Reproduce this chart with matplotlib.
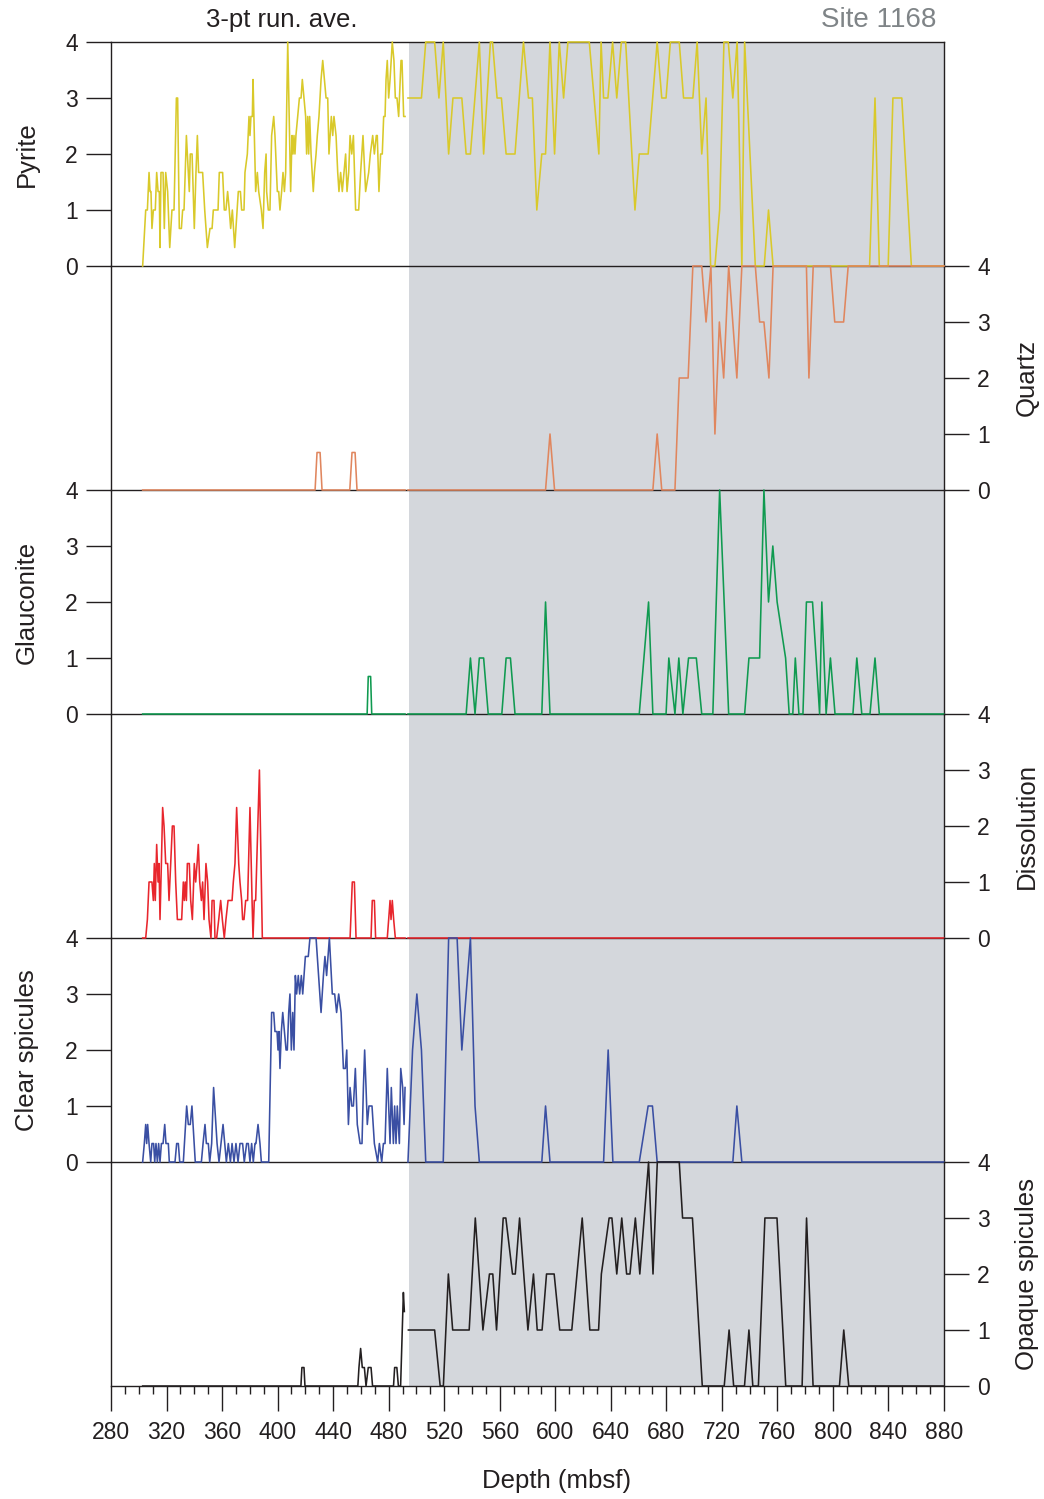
import matplotlib
matplotlib.use('Agg')
import matplotlib.pyplot as plt
from matplotlib.ticker import MultipleLocator

plt.rcParams['font.family'] = ['Liberation Sans', 'DejaVu Sans']

# ---- data: depth (mbsf) and 3-pt running average abundance (0-4) ----
# shallow interval (white) and deep interval (shaded) are separate series
pyrite_up_depth = [302.8, 305.0, 306.2, 307.4, 308.1, 308.8, 309.5, 310.5, 311.9, 312.9,
                   313.9, 314.8, 315.3, 316.0, 317.5, 318.4, 319.4, 320.8, 322.3, 323.9,
                   325.4, 327.1, 328.0, 329.2, 330.7, 331.6, 332.6, 334.3, 336.4, 337.1,
                   338.4, 340.0, 341.2, 342.2, 343.1, 346.0, 347.5, 349.4, 351.3, 352.8,
                   353.7, 357.1, 358.0, 360.4, 361.6, 362.8, 364.0, 365.2, 366.2, 367.4,
                   369.1, 371.7, 373.2, 374.1, 375.8, 376.5, 378.2, 379.4, 380.1, 380.8,
                   381.8, 382.3, 384.2, 385.4, 386.4, 388.3, 389.5, 390.7, 391.7, 392.1,
                   393.3, 394.5, 395.7, 397.2, 398.1, 399.8, 400.8, 401.7, 402.9, 403.9,
                   404.9, 405.8, 407.3, 409.4, 410.4, 411.1, 411.8, 412.5, 413.2, 414.5,
                   415.7, 416.9, 417.8, 419.0, 420.2, 420.9, 421.7, 422.4, 423.1, 424.1,
                   425.7, 426.5, 427.7, 428.6, 429.8, 431.3, 432.5, 433.7, 434.9, 436.1,
                   437.0, 438.7, 439.7, 440.6, 442.1, 443.3, 444.2, 445.4, 446.6, 449.0,
                   450.0, 451.2, 452.2, 453.4, 454.6, 456.2, 458.4, 459.8, 461.5, 463.4,
                   465.6, 466.8, 468.5, 469.7, 471.1, 471.8, 473.0, 474.2, 475.4, 476.4,
                   477.4, 478.1, 479.0, 479.5, 480.0, 481.0, 482.6, 483.8, 484.8, 486.0,
                   487.2, 488.9, 489.6, 490.8, 491.8]
pyrite_up = [0, 1, 1, 1.67, 1.33, 1.33, 0.67, 1, 1, 1.67,
             1.33, 1.33, 0.33, 1.67, 1.67, 0.67, 1.67, 1.33, 0.33, 1,
             1, 3, 3, 0.67, 0.67, 1, 1, 2.33, 1.33, 2,
             2, 0.67, 1.67, 2.33, 1.67, 1.67, 1, 0.33, 0.67, 0.67,
             1, 1, 1.67, 1.67, 1, 1, 1.33, 1, 0.67, 1,
             0.33, 1.33, 1.33, 1, 1, 1.67, 2, 2.67, 2.33, 2.67,
             2.67, 3.33, 1.33, 1.67, 1.33, 1, 0.67, 1.67, 2, 1.33,
             1, 1, 2.33, 2.67, 2.33, 1.33, 1.33, 1, 1.33, 1.67,
             1.33, 1.67, 4, 1.33, 2.33, 2, 2.33, 2, 2.33, 2.67,
             3, 3, 3.33, 3, 2.67, 2, 2.67, 2, 2.67, 2,
             1.33, 1.67, 2, 2.33, 2.67, 3.33, 3.67, 3.33, 3, 3,
             2, 2.67, 2.33, 2.67, 2.33, 1.67, 1.33, 1.67, 1.33, 2,
             1.33, 1.67, 2.33, 2, 2.33, 1, 1, 1.67, 2.33, 1.33,
             1.67, 2, 2.33, 2, 2.33, 2.33, 1.33, 2, 2, 2.67,
             2.67, 3.33, 3.67, 3.33, 3, 3.33, 4, 3.67, 3, 3,
             2.67, 3.67, 3.67, 2.67, 2.67]
pyrite_lo_depth = [493.9, 503.6, 506.7, 513.1, 516.2, 519.3, 523.2, 526.3, 532.7, 535.8,
                   538.9, 545.3, 548.4, 553.3, 554.8, 558.1, 561.2, 564.6, 571.0, 577.1,
                   580.7, 583.5, 586.7, 590.3, 593.0, 596.2, 599.5, 602.9, 606.0, 609.1,
                   624.5, 631.4, 633.0, 634.8, 637.9, 641.3, 644.3, 647.6, 650.7, 657.4,
                   660.5, 666.9, 673.4, 676.7, 679.8, 682.9, 689.3, 692.4, 699.1, 702.2,
                   705.5, 708.6, 711.9, 715.0, 718.4, 721.5, 724.6, 727.9, 731.0, 734.4,
                   736.4, 744.1, 750.5, 753.6, 756.9, 826.4, 830.3, 833.4, 839.8, 843.2,
                   849.6, 856.5, 880.0]
pyrite_lo = [3, 3, 4, 4, 3, 4, 2, 3, 3, 2,
             2, 4, 2, 4, 4, 3, 3, 2, 2, 4,
             3, 3, 1, 2, 2, 4, 2, 4, 3, 4,
             4, 2, 4, 3, 3, 4, 3, 4, 4, 1,
             2, 2, 4, 3, 3, 4, 4, 3, 3, 4,
             2, 3, 0, 0, 1, 4, 4, 3, 4, 0,
             4, 0, 0, 1, 0, 0, 3, 0, 0, 3,
             3, 0, 0]

quartz_up_depth = [302.8, 427.0, 428.4, 430.6, 432.0, 452.0, 453.6, 455.8, 457.2, 491.8]
quartz_up = [0, 0, 0.67, 0.67, 0, 0, 0.67, 0.67, 0, 0]
quartz_lo_depth = [493.9, 593.0, 596.2, 599.5, 670.3, 673.4, 676.7, 686.2, 689.3, 695.7,
                   699.1, 705.5, 708.6, 712.1, 715.0, 718.2, 721.3, 724.9, 730.8, 734.4,
                   744.1, 747.2, 750.3, 753.9, 756.9, 780.9, 782.7, 785.8, 798.2, 801.3,
                   807.7, 811.0, 880.0]
quartz_lo = [0, 0, 1, 0, 0, 1, 0, 0, 2, 2,
             4, 4, 3, 4, 1, 3, 2, 4, 2, 4,
             4, 3, 3, 2, 4, 4, 2, 4, 4, 3,
             3, 4, 4]

glauc_up_depth = [302.8, 464.5, 465.3, 467.0, 467.8, 491.8]
glauc_up = [0, 0, 0.67, 0.67, 0, 0]
glauc_lo_depth = [493.9, 535.8, 538.9, 542.2, 545.3, 548.4, 551.7, 561.5, 564.6, 567.7,
                  571.0, 590.3, 593.0, 596.2, 660.5, 667.2, 670.3, 679.8, 681.8, 686.2,
                  689.0, 691.9, 696.0, 701.6, 705.5, 713.5, 718.4, 724.9, 736.4, 739.5,
                  747.2, 750.3, 753.6, 756.7, 759.8, 765.9, 768.5, 771.1, 772.9, 775.5,
                  778.4, 780.9, 785.3, 787.9, 790.4, 792.0, 795.1, 798.2, 801.5, 814.4,
                  817.2, 820.8, 826.7, 830.3, 833.4, 880.0]
glauc_lo = [0, 0, 1, 0, 1, 1, 0, 0, 1, 1,
            0, 0, 2, 0, 0, 2, 0, 0, 1, 0,
            1, 0, 1, 1, 0, 0, 4, 0, 0, 1,
            1, 4, 2, 3, 2, 1, 0, 0, 1, 0,
            0, 2, 2, 1, 0, 2, 0, 1, 0, 0,
            1, 0, 0, 1, 0, 0]

dissol_up_depth = [302.8, 305.0, 306.2, 307.4, 309.5, 310.5, 311.2, 311.9, 312.9, 313.9,
                   314.6, 315.3, 316.3, 317.2, 318.2, 319.4, 320.8, 321.8, 323.0, 324.2,
                   325.4, 326.6, 327.8, 330.9, 332.1, 332.8, 333.5, 334.3, 335.0, 336.4,
                   337.4, 338.6, 340.0, 341.0, 342.0, 342.9, 343.9, 345.1, 346.0, 347.0,
                   348.4, 349.6, 350.6, 352.0, 352.8, 354.2, 354.9, 356.1, 357.6, 359.0,
                   360.2, 361.6, 362.8, 364.3, 367.2, 368.1, 369.3, 370.5, 372.0, 372.9,
                   374.1, 374.8, 375.8, 377.0, 378.4, 380.1, 381.6, 382.3, 383.2, 384.2,
                   386.9, 389.0, 452.2, 453.8, 455.3, 456.5, 467.3, 468.2, 469.7, 470.6,
                   479.0, 480.0, 481.0, 481.7, 482.6, 483.6, 484.8, 491.8]
dissol_up = [0, 0, 0.33, 1, 1, 0.67, 1.33, 0.67, 1.67, 1,
             1.33, 0.33, 1.33, 2.33, 2, 1.33, 1.33, 0.67, 1.33, 2,
             2, 1, 0.33, 0.33, 1, 0.67, 1, 0.67, 1.33, 1.33,
             0.67, 0.33, 1.33, 1, 1.33, 1.67, 1, 0.67, 1, 0.33,
             1.33, 1, 0.33, 0, 0.67, 0.67, 0, 0, 0.33, 0.67,
             0.33, 0, 0.33, 0.67, 0.67, 1, 1.33, 2.33, 1.33, 1,
             0.67, 0.33, 0.33, 0.67, 0.67, 2.33, 0.67, 0, 0.67, 0.67,
             3, 0, 0, 1, 1, 0, 0, 0.67, 0.67, 0,
             0, 0.33, 0.67, 0.33, 0.67, 0.33, 0, 0]
dissol_lo_depth = [493.9, 880.0]
dissol_lo = [0, 0]

clear_up_depth = [302.8, 304.0, 305.0, 305.7, 306.4, 307.4, 308.6, 309.5, 310.7, 311.5,
                  312.4, 313.4, 314.3, 315.3, 316.3, 317.5, 318.7, 319.6, 321.3, 322.0,
                  326.1, 327.3, 328.5, 329.5, 332.1, 334.5, 335.7, 337.1, 338.3, 340.7,
                  345.1, 346.3, 347.7, 348.7, 350.1, 351.1, 352.5, 353.9, 356.4, 357.8,
                  359.2, 360.7, 361.9, 363.1, 364.5, 366.0, 367.2, 368.6, 370.0, 371.5,
                  372.9, 374.8, 376.0, 377.7, 378.9, 380.1, 381.3, 382.5, 383.7, 384.4,
                  385.9, 387.3, 388.3, 393.6, 395.7, 397.2, 398.1, 399.6, 400.3, 401.0,
                  401.7, 402.7, 403.7, 404.9, 406.1, 407.0, 408.0, 408.9, 409.9, 410.9,
                  411.8, 412.8, 413.7, 414.9, 415.9, 417.1, 418.1, 419.0, 420.0, 420.9,
                  422.1, 423.3, 427.7, 431.3, 433.0, 434.1, 435.3, 437.3, 439.4, 441.1,
                  442.5, 444.0, 445.7, 447.4, 448.8, 449.8, 451.0, 452.2, 453.4, 454.6,
                  456.0, 457.4, 459.4, 460.8, 461.8, 462.7, 463.7, 464.6, 465.8, 468.0,
                  469.7, 472.1, 473.3, 475.0, 476.2, 477.4, 479.0, 481.0, 481.9, 483.4,
                  484.3, 485.3, 486.2, 487.7, 488.7, 490.1, 491.1, 491.8]
clear_up = [0, 0.33, 0.67, 0.33, 0.67, 0.33, 0, 0.33, 0.33, 0,
            0.33, 0, 0.33, 0, 0.33, 0.33, 0.67, 0.33, 0.33, 0,
            0, 0.33, 0.33, 0, 0, 1, 0.67, 0.67, 1, 0,
            0, 0.33, 0.67, 0.33, 0.33, 0, 0.33, 1.33, 0.33, 0,
            0.33, 0.67, 0.33, 0, 0.33, 0, 0.33, 0, 0.33, 0,
            0.33, 0.33, 0, 0.33, 0.33, 0, 0.33, 0, 0.33, 0.33,
            0.67, 0.33, 0, 0, 2.67, 2.67, 2.33, 2.33, 2, 2.33,
            1.67, 2.33, 2.67, 2.33, 2, 2, 2.67, 3, 2, 2.67,
            2, 3.33, 3, 3.33, 3, 3.33, 3, 3.33, 3.67, 3.67,
            3.67, 4, 4, 2.67, 3.33, 3.67, 3.33, 4, 3, 3,
            2.67, 3, 2.67, 1.67, 1.67, 2, 0.67, 1.33, 1, 1,
            1.67, 0.67, 0.33, 0.33, 1.33, 2, 1.33, 0.67, 1, 1,
            0.33, 0, 0.33, 0, 0.33, 0.33, 1.67, 0.33, 1.33, 0.33,
            1, 0.33, 1, 0.33, 1.67, 1.33, 0.67, 1.33]
clear_lo_depth = [493.9, 497.2, 500.3, 503.6, 506.7, 519.3, 523.2, 529.3, 532.7, 538.9,
                  542.2, 545.3, 590.3, 593.0, 596.2, 634.8, 638.1, 641.5, 660.5, 666.9,
                  670.0, 673.4, 727.9, 730.8, 734.4, 880.0]
clear_lo = [0, 2, 3, 2, 0, 0, 4, 4, 2, 4,
            1, 0, 0, 1, 0, 0, 2, 0, 0, 1,
            1, 0, 0, 1, 0, 0]

opaque_up_depth = [302.8, 416.8, 417.5, 419.0, 419.7, 457.8, 458.6, 459.8, 461.0, 462.5,
                   463.7, 465.3, 467.3, 468.4, 483.5, 484.3, 485.9, 487.0, 488.6, 490.6,
                   491.3]
opaque_up = [0, 0, 0.33, 0.33, 0, 0, 0.33, 0.67, 0.33, 0.33,
             0, 0.33, 0.33, 0, 0, 0.33, 0.33, 0, 0, 1.67,
             1.33]
opaque_lo_depth = [494.2, 513.1, 517.1, 519.4, 523.0, 526.1, 538.0, 542.4, 547.9, 552.6,
                   555.0, 557.7, 562.5, 564.4, 569.2, 571.2, 574.3, 580.3, 584.3, 587.0,
                   590.5, 593.7, 599.2, 603.2, 611.9, 619.4, 624.9, 631.2, 633.2, 638.8,
                   640.8, 644.3, 647.9, 651.4, 653.8, 657.7, 660.9, 667.2, 670.4, 673.5,
                   689.3, 691.7, 698.8, 705.9, 721.7, 725.2, 728.5, 736.3, 739.5, 742.3,
                   746.3, 751.0, 759.7, 766.0, 777.8, 781.0, 785.7, 804.7, 807.8, 811.4,
                   880.0]
opaque_lo = [1, 1, 0, 0, 2, 1, 1, 3, 1, 2,
             2, 1, 3, 3, 2, 2, 3, 1, 2, 1,
             1, 2, 2, 1, 1, 3, 1, 1, 2, 3,
             3, 2, 3, 2, 2, 3, 2, 4, 2, 4,
             4, 3, 3, 0, 0, 1, 0, 0, 1, 0,
             0, 3, 3, 0, 0, 3, 0, 0, 1, 0,
             0]

panel_names = ['Pyrite', 'Quartz', 'Glauconite', 'Dissolution',
               'Clear spicules', 'Opaque spicules']
panel_colors = ['#d9c92a', '#e0865e', '#0f9a50', '#e8262d', '#3a4fa3', '#231f20']
panel_series = [
    (pyrite_up_depth, pyrite_up, pyrite_lo_depth, pyrite_lo),
    (quartz_up_depth, quartz_up, quartz_lo_depth, quartz_lo),
    (glauc_up_depth, glauc_up, glauc_lo_depth, glauc_lo),
    (dissol_up_depth, dissol_up, dissol_lo_depth, dissol_lo),
    (clear_up_depth, clear_up, clear_lo_depth, clear_lo),
    (opaque_up_depth, opaque_up, opaque_lo_depth, opaque_lo),
]
shade_from = 494.5
depth_min, depth_max = 280, 880

# ---- figure layout (pixel based) ----
W, H = 1044, 1499
fig = plt.figure(figsize=(W / 100, H / 100), dpi=100)
ink = '#231f20'
left_px, right_px, top_px, panel_px = 111, 944, 42, 224
n = len(panel_names)

# shaded deep interval behind the whole stack
bg = fig.add_axes([left_px / W, (H - top_px - panel_px * n) / H,
                   (right_px - left_px) / W, panel_px * n / H], zorder=0)
bg.axvspan(shade_from, depth_max, color='#d4d7dc', lw=0)
bg.set_xlim(depth_min, depth_max)
bg.axis('off')

for i, name in enumerate(panel_names):
    bottom = (H - (top_px + panel_px * (i + 1))) / H
    ax = fig.add_axes([left_px / W, bottom, (right_px - left_px) / W, panel_px / H],
                      zorder=1)
    d1, v1, d2, v2 = panel_series[i]
    ax.plot(d1, v1, color=panel_colors[i], lw=1.15, zorder=3, clip_on=False)
    ax.plot(d2, v2, color=panel_colors[i], lw=1.15, zorder=3, clip_on=False)
    ax.set_xlim(depth_min, depth_max)
    ax.set_ylim(0, 4)
    ax.patch.set_alpha(0)
    for s in ax.spines.values():
        s.set_color(ink)
        s.set_linewidth(1.0)
    ax.spines['top'].set_visible(i == 0)

    side = 'left' if i % 2 == 0 else 'right'
    ax.yaxis.set_ticks_position(side)
    ax.set_yticks([0, 1, 2, 3, 4])
    ax.tick_params(axis='y', direction='out', length=18, width=1.0, color=ink,
                   labelsize=16.5, labelcolor=ink, pad=6)
    ycen = 1 - (top_px + panel_px * (i + 0.5)) / H
    xlab = 27 if side == 'left' else 1027
    fig.text(xlab / W, ycen, name, rotation=90, ha='center', va='center',
             fontsize=18.5, color=ink)

    if i < n - 1:
        ax.tick_params(axis='x', which='both', bottom=False, labelbottom=False)
    else:
        ax.set_xticks(range(depth_min, depth_max + 1, 40))
        ax.xaxis.set_minor_locator(MultipleLocator(10))
        ax.tick_params(axis='x', which='major', direction='out', length=18, width=1.0,
                       color=ink, labelsize=16.5, labelcolor=ink, pad=7)
        ax.tick_params(axis='x', which='minor', direction='out', length=6, width=1.0,
                       color=ink)

fig.text(282 / W, 1 - 20 / H, '3-pt run. ave.', ha='center', va='center',
         fontsize=18.5, color=ink)
fig.text(879 / W, 1 - 20 / H, 'Site 1168', ha='center', va='center',
         fontsize=20, color='#7f8487')
fig.text(557 / W, 1 - 1481 / H, 'Depth (mbsf)', ha='center', va='center',
         fontsize=18.5, color=ink)

fig.savefig('out.png', dpi=100)
